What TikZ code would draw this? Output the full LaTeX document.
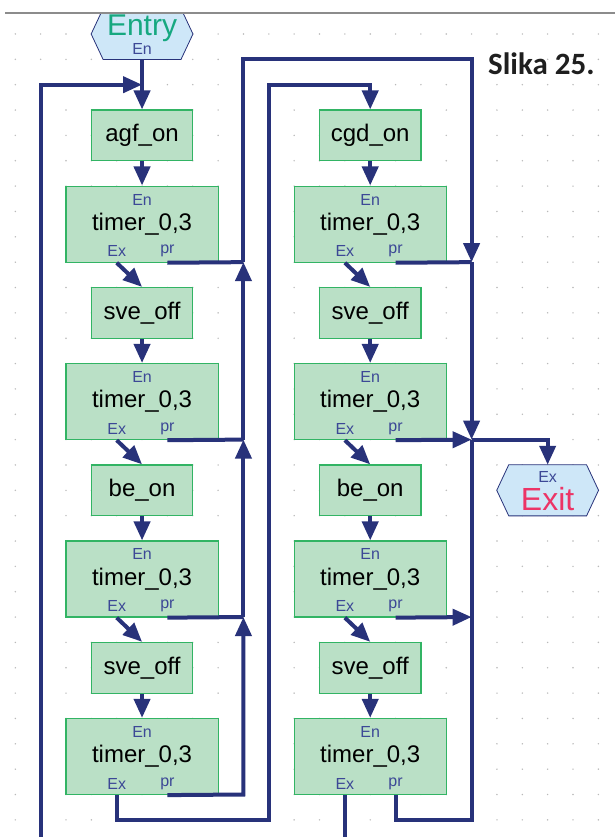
\documentclass[tikz,border=0pt]{standalone}
\usepackage{fontspec}
\setmainfont{Liberation Sans}
\newfontfamily\slikafont{Carlito}
\usetikzlibrary{arrows.meta}
\definecolor{wirecol}{RGB}{40,50,122}
\definecolor{boxfill}{RGB}{186,224,198}
\definecolor{boxline}{RGB}{50,180,100}
\definecolor{hexfill}{RGB}{206,231,248}
\definecolor{lblcol}{RGB}{60,72,150}
\definecolor{entrycol}{RGB}{22,168,128}
\definecolor{exitcol}{RGB}{236,52,102}
\definecolor{dotcol}{RGB}{185,185,185}
\tikzset{
  wire/.style={draw=wirecol, line width=4pt},
  arr/.style={-{Triangle[length=19pt 0 0,width=16pt 0 0]}},
  opbox/.style={draw=boxline, fill=boxfill, line width=1.2pt, minimum width=101.4pt, minimum height=50.7pt, inner sep=0pt, font=\fontsize{24}{24}\selectfont},
  timerbox/.style={opbox, minimum width=152.1pt, minimum height=76.05pt},
  port/.style={text=lblcol, font=\fontsize{16}{16}\selectfont, inner sep=0pt},
  hexnode/.style={minimum width=101.4pt, minimum height=50.7pt, inner sep=0pt},
  hexline/.style={draw=wirecol, fill=hexfill, line width=0.8pt},
}
\newcommand\timerbox[3]{%
  \node[timerbox] (#1) at (#2,#3) {timer\_0,3};
  \node[port] at ([yshift=-14pt]#1.north) {En};
  \node[port] at ([xshift=-25.35pt,yshift=11.5pt]#1.south) {Ex};
  \node[port] at ([xshift=25.35pt,yshift=11.5pt]#1.south) {pr};
  \coordinate (#1ex) at ([xshift=-25.35pt]#1.south);
  \coordinate (#1pr) at ([xshift=25.35pt]#1.south);
}
\newcommand\hexpath[1]{%
  \path[hexline] (#1.west) -- ([xshift=12pt]#1.north west) -- ([xshift=-12pt]#1.north east)
    -- (#1.east) -- ([xshift=-12pt]#1.south east) -- ([xshift=12pt]#1.south west) -- cycle;
}
\begin{document}
\begin{tikzpicture}[x=1pt,y=-1pt]
\useasboundingbox (0,0) rectangle (615,837);
\clip (0,0) rectangle (615,837);
\fill[white] (0,0) rectangle (615,837);
\begin{scope}[shift={(15.3,34)}, x=25.35pt, y=-25.35pt]
  % grid dots
  \foreach \i in {0,...,23} \foreach \j in {0,...,31} \fill[dotcol] (\i,\j) circle (0.8pt);
  % Entry / Exit
  \node[hexnode] (entry) at (5,0) {};
  \hexpath{entry}
  \node[text=entrycol, font=\fontsize{30}{30}\selectfont, anchor=base, inner sep=0pt] at ([yshift=-2pt]entry.center) {Entry};
  \node[port] at ([yshift=-14.5pt]entry.center) {En};
  \node[hexnode] (exit) at (21,18) {};
  \hexpath{exit}
  \node[text=exitcol, font=\fontsize{32}{32}\selectfont, anchor=base, inner sep=0pt] at ([yshift=-20pt]exit.center) {Exit};
  \node[port] at ([yshift=13pt]exit.center) {Ex};
  % left column
  \node[opbox] (LA) at (5,4) {agf\_on};
  \timerbox{L1}{5}{7.5}
  \node[opbox] (LB) at (5,11) {sve\_off};
  \timerbox{L2}{5}{14.5}
  \node[opbox] (LC) at (5,18) {be\_on};
  \timerbox{L3}{5}{21.5}
  \node[opbox] (LD) at (5,25) {sve\_off};
  \timerbox{L4}{5}{28.5}
  % right column
  \node[opbox] (RA) at (14,4) {cgd\_on};
  \timerbox{R1}{14}{7.5}
  \node[opbox] (RB) at (14,11) {sve\_off};
  \timerbox{R2}{14}{14.5}
  \node[opbox] (RC) at (14,18) {be\_on};
  \timerbox{R3}{14}{21.5}
  \node[opbox] (RD) at (14,25) {sve\_off};
  \timerbox{R4}{14}{28.5}
  % junction coordinates
  \coordinate (jE) at (5,2);
  \coordinate (lp0) at (1,32);
  \coordinate (lp1) at (1,2);
  \coordinate (jL1) at (9,9);
  \coordinate (jL2) at (9,16);
  \coordinate (jL3) at (9,23);
  \coordinate (cL4) at (9,30);
  \coordinate (tA) at (9,1);
  \coordinate (tB) at (18,1);
  \coordinate (jR1) at (18,9);
  \coordinate (jR2) at (18,16);
  \coordinate (jR3) at (18,23);
  \coordinate (bR) at (18,31);
  \coordinate (bRp) at (15,31);
  \coordinate (bL1) at (4,31);
  \coordinate (bL2) at (10,31);
  \coordinate (tC) at (10,2);
  \coordinate (tD) at (14,2);
  \coordinate (xA) at (21,16);
  \coordinate (rEx) at (13,32);
  % wires left column
  \draw[wire,arr] (entry.south) -- (LA.north);
  \draw[wire,arr] (lp0) -- (lp1) -- (jE);
  \draw[wire,arr] (LA.south) -- (L1.north);
  \draw[wire,arr] (L1ex) -- (LB.north);
  \draw[wire,arr] (LB.south) -- (L2.north);
  \draw[wire,arr] (L2ex) -- (LC.north);
  \draw[wire,arr] (LC.south) -- (L3.north);
  \draw[wire,arr] (L3ex) -- (LD.north);
  \draw[wire,arr] (LD.south) -- (L4.north);
  \draw[wire] (L1pr) -- (jL1);
  \draw[wire] (L2pr) -- (jL2);
  \draw[wire] (L3pr) -- (jL3);
  \draw[wire,arr] (L4pr) -- (cL4) -- (jL3);
  \draw[wire,arr] (jL3) -- (jL2);
  \draw[wire,arr] (jL2) -- (jL1);
  \draw[wire,arr] (jL1) -- (tA) -- (tB) -- (jR1);
  \draw[wire,arr] (jR1) -- (jR2);
  \draw[wire,arr] (L4ex) -- (bL1) -- (bL2) -- (tC) -- (tD) -- (RA.north);
  % wires right column
  \draw[wire,arr] (RA.south) -- (R1.north);
  \draw[wire,arr] (R1ex) -- (RB.north);
  \draw[wire,arr] (RB.south) -- (R2.north);
  \draw[wire,arr] (R2ex) -- (RC.north);
  \draw[wire,arr] (RC.south) -- (R3.north);
  \draw[wire,arr] (R3ex) -- (RD.north);
  \draw[wire,arr] (RD.south) -- (R4.north);
  \draw[wire] (R1pr) -- (jR1);
  \draw[wire,arr] (R2pr) -- (jR2);
  \draw[wire,arr] (R3pr) -- (jR3);
  \draw[wire] (R4pr) -- (bRp) -- (bR) -- (jR2);
  \draw[wire] (R4ex) -- (rEx);
  \draw[wire,arr] (jR2) -- (xA) -- (exit.north);
\end{scope}
\fill[white] (0,0) rectangle (615,11.8);
\draw[draw={rgb,255:red,140;green,140;blue,140}, line width=2pt] (5,12.7) -- (615,12.7);
\node[anchor=base west, inner sep=0pt, text=black!88, font=\slikafont\bfseries\fontsize{31}{31}\selectfont] (slika) at (488,75) {Slika 25.};
\end{tikzpicture}
\end{document}
